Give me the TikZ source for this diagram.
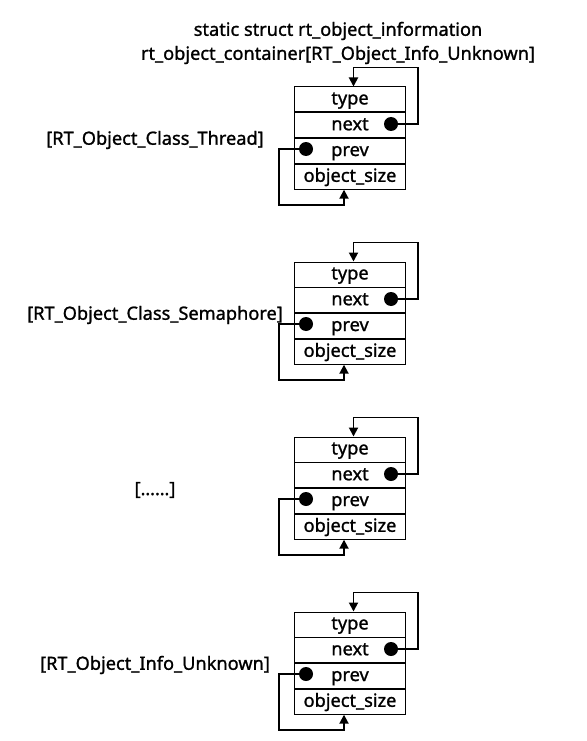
\documentclass[tikz,border=0pt]{standalone}
\usepackage{fontspec}
\setmainfont{Noto Sans}[BoldFont={Noto Sans}, BoldFeatures={FakeBold=1.2}]
\usetikzlibrary{arrows.meta}
\begin{document}
\begin{tikzpicture}[x=1pt,y=-1pt,
  txt/.style={font=\fontsize{18.2}{21}\selectfont\bfseries, inner sep=0pt},
  cell/.style={draw, line width=0.8pt, minimum width=111pt, minimum height=25pt, inner sep=0pt, anchor=north, text height=13pt, text depth=3pt, font=\fontsize{18.2}{21}\selectfont\bfseries},
  dot/.style={circle, fill=black, minimum size=14pt, inner sep=0pt},
  link/.style={line width=1.9pt, -{Triangle[length=9pt,width=9pt]}}]
\useasboundingbox (0,0) rectangle (586,741);
\node[txt] (title1) at (338,31) {static struct rt\_object\_information};
\node[txt] (title2) at (338,55) {rt\_object\_container[RT\_Object\_Info\_Unknown]};
\foreach \i/\lab in {0/{[RT\_Object\_Class\_Thread]},1/{[RT\_Object\_Class\_Semaphore]},2/{[……]},3/{[RT\_Object\_Info\_Unknown]}}{
  \begin{scope}[yshift={-175*\i pt}]
    \node[cell] (t\i) at (350,86.5) {type};
    \node[cell] (n\i) at (t\i.south) {next};
    \node[cell] (p\i) at (n\i.south) {prev};
    \node[cell] (s\i) at (p\i.south) {object\_size};
    \node[dot] (dn\i) at (391,124) {};
    \node[dot] (dp\i) at (306,149) {};
    \coordinate (r\i) at (418,67.5);
    \coordinate (l\i) at (279,205);
    \node[txt] (lab\i) at (155,140) {\lab};
    \draw[link] (dn\i.center) -| (r\i) -| ([xshift=3.5pt]t\i.north);
    \draw[link] (dp\i.center) -| (l\i) -| ([xshift=-6pt]s\i.south);
  \end{scope}
}
\end{tikzpicture}
\end{document}
